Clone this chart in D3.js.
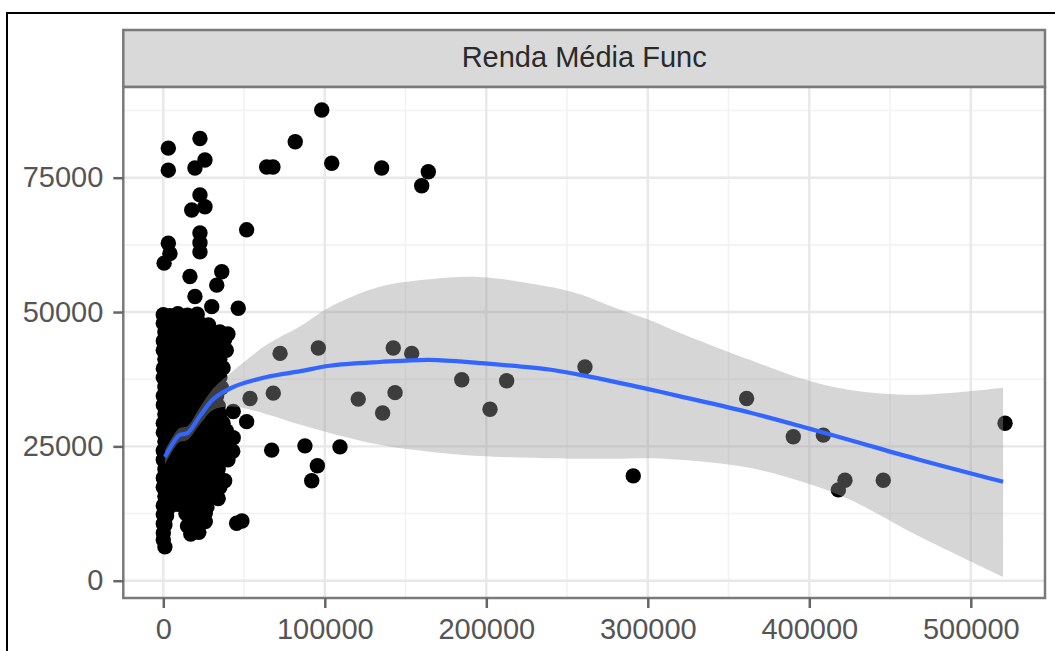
<!DOCTYPE html>
<html>
<head>
<meta charset="utf-8">
<script src="https://cdn.jsdelivr.net/npm/d3@7"></script>
<style>
  html, body { margin: 0; padding: 0; background: #fff; overflow: hidden; }
  svg { display: block; font-family: "Liberation Sans", Arial, Helvetica, sans-serif; }
</style>
</head>
<body>
<svg id="chart" width="1055" height="651"></svg>
<script>
// Facet title and axis breaks
const tituloPainel = "Renda Média Func";
const ticksX = [0, 100000, 200000, 300000, 400000, 500000];
const ticksY = [0, 25000, 50000, 75000];
const minorX = [50000, 150000, 250000, 350000, 450000];
const minorY = [12500, 37500, 62500, 87500];

// Observations: [salário total, renda média por funcionário]
const pontos = [
  // dense group of small units
  [0,49500],[4000,49300],[9000,49700],[15000,49400],[21000,49600],
  [0,47900],[5000,47700],[10000,48100],[16000,47800],[22000,48000],[28000,47600],
  [1000,46300],[6000,46100],[11000,46500],[17000,46200],[23000,46400],[29000,46000],[35000,46300],[40000,45900],
  [0,44600],[4000,44400],[9000,44800],[14000,44500],[20000,44700],[26000,44300],[32000,44600],[38000,44900],
  [0,42900],[5000,43100],[10000,42700],[16000,43000],[22000,42800],[28000,43100],[34000,42700],[39000,42900],
  [1000,41200],[6000,41000],[11000,41400],[17000,41100],[23000,41300],[29000,40900],[35000,41200],
  [0,39500],[4000,39700],[9000,39300],[15000,39600],[21000,39400],[27000,39700],[33000,39300],[37000,39600],
  [0,37800],[5000,37600],[11000,38000],[17000,37700],[23000,37900],[29000,37500],[35000,37800],
  [1000,36100],[6000,36300],[12000,35900],[18000,36200],[24000,36000],[30000,36300],[36000,35900],
  [0,34400],[4000,34200],[9000,34600],[15000,34300],[21000,34500],[27000,34100],[33000,34400],
  [0,32700],[5000,32900],[11000,32500],[17000,32800],[23000,32600],[29000,32900],[34000,32500],
  [1000,31000],[6000,30800],[12000,31200],[18000,30900],[24000,31100],[30000,30700],[35000,31000],
  [0,29300],[4000,29500],[9000,29100],[15000,29400],[21000,29200],[27000,29500],[33000,29100],[37000,29300],
  [0,27600],[5000,27400],[11000,27800],[17000,27500],[23000,27700],[29000,27300],[35000,27600],[39000,27900],
  [1000,25900],[6000,26100],[12000,25700],[18000,26000],[24000,25800],[30000,26100],[36000,25700],[41000,26800],
  [0,24200],[4000,24000],[9000,24400],[15000,24100],[21000,24300],[27000,23900],[33000,24200],[39000,24500],[43000,24100],
  [0,22500],[5000,22700],[11000,22300],[17000,22600],[23000,22400],[29000,22700],[35000,22300],[40000,22500],
  [1000,20800],[6000,20600],[12000,21000],[18000,20700],[24000,20900],[30000,20500],[34000,20800],
  [0,19100],[4000,19300],[9000,18900],[15000,19200],[21000,19000],[27000,19300],[33000,18900],[38000,18600],
  [0,17400],[5000,17200],[11000,17600],[17000,17300],[23000,17500],[29000,17100],[35000,17400],
  [1000,15700],[6000,15900],[12000,15500],[18000,15800],[24000,15600],[30000,15900],[34000,15300],
  [0,14000],[4000,13800],[9000,14200],[15000,13900],[21000,14100],[27000,13700],
  [0,12300],[2000,12100],[14000,12500],[20000,12200],[26000,12600],
  [0,10600],[1000,10400],[15000,10200],[21000,10600],[26000,11000],
  [0,8900],[17000,8700],[22000,9000],
  [0,7600],[1000,6300],
  // scattered units above the group
  [500,59100],[4100,60900],[3100,62800],[22700,61200],[22700,62900],[22700,64700],
  [16500,56600],[36200,57500],[33100,55000],[19600,52900],[30000,51000],[46400,50700],
  [51600,65300],[17600,69000],[25800,69600],[22700,71800],
  [3100,76400],[19600,76800],[25800,78300],[3100,80500],[22700,82300],
  [64000,77000],[67900,77000],[81700,81700],[98100,87600],[104300,77700],
  [135200,76800],[164100,76100],[160000,73500],
  // mid-sized and large units
  [72300,42300],[96000,43300],[142400,43300],[153800,42300],
  [184800,37400],[212600,37200],[261100,39800],
  [120700,33800],[143500,35000],[135800,31200],[202300,31900],
  [53700,33900],[68100,34900],[43300,31500],[51600,29600],[43300,26600],
  [67100,24300],[87700,25100],[109400,24900],[95400,21400],[91900,18600],
  [45400,10700],[48700,11100],
  [291000,19500],[361200,33900],[390100,26800],[408700,27100],
  [422100,18700],[418000,16900],[445800,18700],[521200,29300]
];

// Local regression fit and its confidence band
const suaveX   = [1000, 6000, 10000, 15000, 23000, 31000, 43000, 64000, 85000, 103000, 134000, 165000, 196000, 239000, 258000, 278000, 301000, 320000, 363000, 400000, 425000, 467000, 520000];
const suaveY   = [23000, 25600, 27100, 27500, 30800, 33800, 36000, 37900, 39000, 40000, 40700, 41100, 40500, 39300, 38300, 37100, 35600, 34300, 31300, 28300, 26200, 22600, 18400];
const suaveMin = [21700, 24300, 25800, 26200, 29200, 31800, 32400, 31000, 29000, 27500, 25300, 24000, 23200, 22800, 22700, 22700, 22800, 22500, 21000, 18000, 15100, 8400, 700];
const suaveMax = [24300, 26900, 28400, 28800, 32400, 35800, 39000, 43900, 47400, 50900, 54700, 56100, 56500, 54700, 53300, 51000, 48500, 46100, 41100, 37200, 35500, 34600, 35900];

const svg = d3.select("#chart");
const W = 1055, H = 651;

const painel = { left: 123.3, right: 1045, top: 87, bottom: 598 };
const faixa = { top: 30, bottom: 87 };

const x = d3.scaleLinear().domain([-24770, 545950]).range([painel.left, painel.right]);
const y = d3.scaleLinear().domain([-3220, 91880]).range([painel.bottom, painel.top]);

// Outer frame
svg.append("rect")
  .attr("x", 7).attr("y", 13).attr("width", W + 20).attr("height", H + 20)
  .attr("fill", "#fff").attr("stroke", "#000").attr("stroke-width", 2);

// Facet strip
svg.append("rect")
  .attr("x", painel.left).attr("y", faixa.top)
  .attr("width", painel.right - painel.left).attr("height", faixa.bottom - faixa.top)
  .attr("fill", "#d9d9d9").attr("stroke", "#7a7a7a").attr("stroke-width", 2.5);

svg.append("text")
  .attr("x", (painel.left + painel.right) / 2).attr("y", 67)
  .attr("text-anchor", "middle")
  .attr("font-size", 29).attr("fill", "#2a2a2a")
  .text(tituloPainel);

// Panel background
svg.append("rect")
  .attr("x", painel.left).attr("y", painel.top)
  .attr("width", painel.right - painel.left).attr("height", painel.bottom - painel.top)
  .attr("fill", "#fff");

const grade = svg.append("g");
// minor grid
grade.selectAll(".mx").data(minorX).join("line")
  .attr("x1", d => x(d)).attr("x2", d => x(d))
  .attr("y1", painel.top).attr("y2", painel.bottom)
  .attr("stroke", "#f2f2f2").attr("stroke-width", 1.6);
grade.selectAll(".my").data(minorY).join("line")
  .attr("y1", d => y(d)).attr("y2", d => y(d))
  .attr("x1", painel.left).attr("x2", painel.right)
  .attr("stroke", "#f2f2f2").attr("stroke-width", 1.6);
// major grid
grade.selectAll(".gx").data(ticksX).join("line")
  .attr("x1", d => x(d)).attr("x2", d => x(d))
  .attr("y1", painel.top).attr("y2", painel.bottom)
  .attr("stroke", "#e8e8e8").attr("stroke-width", 2.4);
grade.selectAll(".gy").data(ticksY).join("line")
  .attr("y1", d => y(d)).attr("y2", d => y(d))
  .attr("x1", painel.left).attr("x2", painel.right)
  .attr("stroke", "#e8e8e8").attr("stroke-width", 2.4);

// Points
svg.append("g").selectAll("circle").data(pontos).join("circle")
  .attr("cx", d => x(d[0])).attr("cy", d => y(d[1]))
  .attr("r", 7.7).attr("fill", "#000");

// Confidence band and fitted line
const ajuste = suaveX.map((v, i) => ({ x: v, y: suaveY[i], lo: suaveMin[i], hi: suaveMax[i] }));
const curva = d3.curveCatmullRom.alpha(0.5);

svg.append("path").datum(ajuste)
  .attr("d", d3.area().curve(curva)
    .x(d => x(d.x)).y0(d => y(d.lo)).y1(d => y(d.hi)))
  .attr("fill", "#999999").attr("fill-opacity", 0.4);

svg.append("path").datum(ajuste)
  .attr("d", d3.line().curve(curva).x(d => x(d.x)).y(d => y(d.y)))
  .attr("fill", "none").attr("stroke", "#3366ff").attr("stroke-width", 4.2);

// Panel border
svg.append("rect")
  .attr("x", painel.left).attr("y", painel.top)
  .attr("width", painel.right - painel.left).attr("height", painel.bottom - painel.top)
  .attr("fill", "none").attr("stroke", "#7a7a7a").attr("stroke-width", 2.5);

// Axes
const eixoY = svg.append("g").attr("transform", `translate(${painel.left},0)`)
  .call(d3.axisLeft(y).tickValues(ticksY).tickFormat(d3.format("d")).tickSize(10).tickPadding(10));
const eixoX = svg.append("g").attr("transform", `translate(0,${painel.bottom})`)
  .call(d3.axisBottom(x).tickValues(ticksX).tickFormat(d3.format("d")).tickSize(10).tickPadding(10));

[eixoY, eixoX].forEach(g => {
  g.select(".domain").remove();
  g.selectAll(".tick line").attr("stroke", "#666").attr("stroke-width", 2.5);
  g.selectAll(".tick text").attr("font-size", 29).attr("fill", "#555")
    .attr("font-family", "'Liberation Sans', Arial, Helvetica, sans-serif");
});
</script>
</body>
</html>
